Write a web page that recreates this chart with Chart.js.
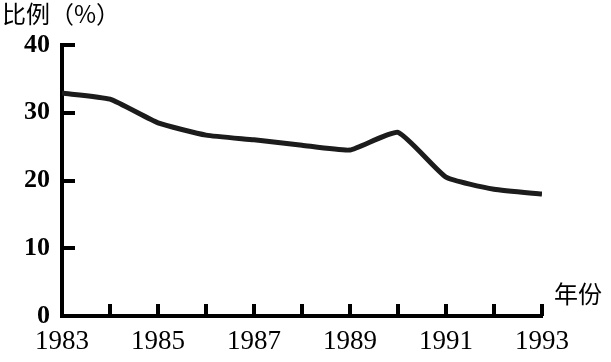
<!DOCTYPE html>
<html>
<head>
<meta charset="utf-8">
<script src="https://cdn.jsdelivr.net/npm/chart.js@4/dist/chart.umd.min.js"></script>
<style>
  html, body { margin: 0; padding: 0; background: #fff; }
  #wrap { width: 611px; height: 362px; position: relative; }
</style>
</head>
<body>
<div id="wrap"><canvas id="myChart" width="611" height="362"></canvas></div>
<script>
// data
var years = [1983, 1984, 1985, 1986, 1987, 1988, 1989, 1990, 1991, 1992, 1993];
var ratio = [32.9, 32.0, 28.5, 26.7, 26.0, 25.2, 24.5, 27.1, 20.5, 18.7, 18.0];
var yTicks = [0, 10, 20, 30, 40];
var xLabelYears = [1983, 1985, 1987, 1989, 1991, 1993];
var yTitle = '比例（%）';
var xTitle = '年份';

// tick marks drawn inward, plus the two axis captions
var innerTicks = {
    id: 'innerTicks',
    afterDraw: function(chart){
        var ctx = chart.ctx;
        var xs = chart.scales.x, ys = chart.scales.y;
        var area = chart.chartArea;
        ctx.save();
        ctx.strokeStyle = '#000';
        ctx.lineWidth = 4;
        ctx.lineCap = 'butt';
        years.forEach(function(yr){
            if(yr === years[0]) return;
            var px = Math.round(xs.getPixelForValue(yr));
            ctx.beginPath();
            ctx.moveTo(px, area.bottom);
            ctx.lineTo(px, area.bottom - 12);
            ctx.stroke();
        });
        yTicks.forEach(function(v){
            if(v === 0) return;
            var py = Math.round(ys.getPixelForValue(v));
            ctx.beginPath();
            ctx.moveTo(area.left, py);
            ctx.lineTo(area.left + 13, py);
            ctx.stroke();
        });
        ctx.fillStyle = '#000';
        ctx.font = '24px "Noto Sans CJK SC"';
        ctx.textBaseline = 'top';
        ctx.textAlign = 'left';
        ctx.fillText(yTitle, 2, 2);
        ctx.fillText(xTitle, 554, 282);
        ctx.restore();
    }
};

var ctx = document.getElementById('myChart').getContext('2d');
var myChart = new Chart(ctx, {
    type: 'line',
    data: {
        datasets: [{
            data: years.map(function(y, i){ return {x: y, y: ratio[i]}; }),
            borderColor: '#1c1c1c',
            borderWidth: 5,
            pointRadius: 0,
            tension: 0.15,
            fill: false
        }]
    },
    options: {
        responsive: false,
        animation: false,
        events: [],
        layout: { padding: { top: 45, right: 69, left: 0, bottom: 0 } },
        plugins: { legend: { display: false }, tooltip: { enabled: false } },
        scales: {
            x: {
                type: 'linear',
                min: years[0],
                max: years[years.length - 1],
                afterFit: function(s){ s.height = 46; },
                afterBuildTicks: function(s){ s.ticks = years.map(function(y){ return {value: y}; }); },
                grid: { display: false, drawTicks: false },
                border: { display: true, color: '#000', width: 4 },
                ticks: {
                    autoSkip: false,
                    maxRotation: 0,
                    padding: 10,
                    color: '#000',
                    font: { family: '"Liberation Serif"', size: 27 },
                    callback: function(v){ return xLabelYears.indexOf(v) >= 0 ? String(v) : ''; }
                }
            },
            y: {
                min: 0,
                max: 40,
                afterFit: function(s){ s.width = 62; },
                afterBuildTicks: function(s){ s.ticks = yTicks.map(function(v){ return {value: v}; }); },
                grid: { display: false, drawTicks: false },
                border: { display: true, color: '#000', width: 4 },
                ticks: {
                    padding: 12,
                    color: '#000',
                    font: { family: '"Liberation Serif"', size: 26, weight: 'bold' }
                }
            }
        }
    },
    plugins: [innerTicks]
});
</script>
</body>
</html>
